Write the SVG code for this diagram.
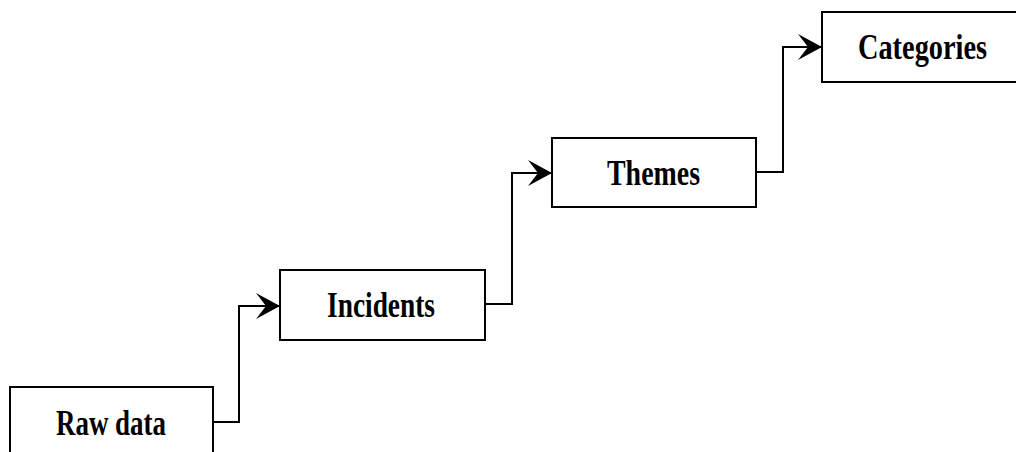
<svg xmlns="http://www.w3.org/2000/svg" width="1016" height="452" viewBox="0 0 1016 452">
  <style>
    .box { fill: #ffffff; stroke: #000000; stroke-width: 2; }
    .label { font-family: "Liberation Serif", "Times New Roman", serif; font-weight: bold; font-size: 35px; fill: #000000; }
    .link { fill: none; stroke: #000000; stroke-width: 2; }
  </style>
  <defs>
    <marker id="arrow" markerUnits="userSpaceOnUse" markerWidth="28" markerHeight="30" refX="25" refY="14" orient="auto">
      <path d="M25,14 L1,1 L11,14 L1,27 Z" fill="#000000"/>
    </marker>
  </defs>
  <rect width="1016" height="452" fill="#ffffff"/>

  <g id="node-raw-data">
    <rect class="box" x="10" y="387" width="203" height="80"/>
    <text class="label" x="56" y="435" textLength="110" lengthAdjust="spacingAndGlyphs">Raw data</text>
  </g>

  <g id="node-incidents">
    <rect class="box" x="280" y="270" width="205" height="70"/>
    <text class="label" x="327" y="317" textLength="108" lengthAdjust="spacingAndGlyphs">Incidents</text>
  </g>

  <g id="node-themes">
    <rect class="box" x="552" y="138" width="204" height="69"/>
    <text class="label" x="607" y="185" textLength="93" lengthAdjust="spacingAndGlyphs">Themes</text>
  </g>

  <g id="node-categories">
    <rect class="box" x="822" y="12" width="200" height="70"/>
    <text class="label" x="858" y="59" textLength="129" lengthAdjust="spacingAndGlyphs">Categories</text>
  </g>

  <g id="connectors">
    <path class="link" d="M213,422 H239 V306 H280" marker-end="url(#arrow)"/>
    <path class="link" d="M485,304 H512 V173 H552" marker-end="url(#arrow)"/>
    <path class="link" d="M756,172 H783 V47 H822" marker-end="url(#arrow)"/>
  </g>
</svg>
